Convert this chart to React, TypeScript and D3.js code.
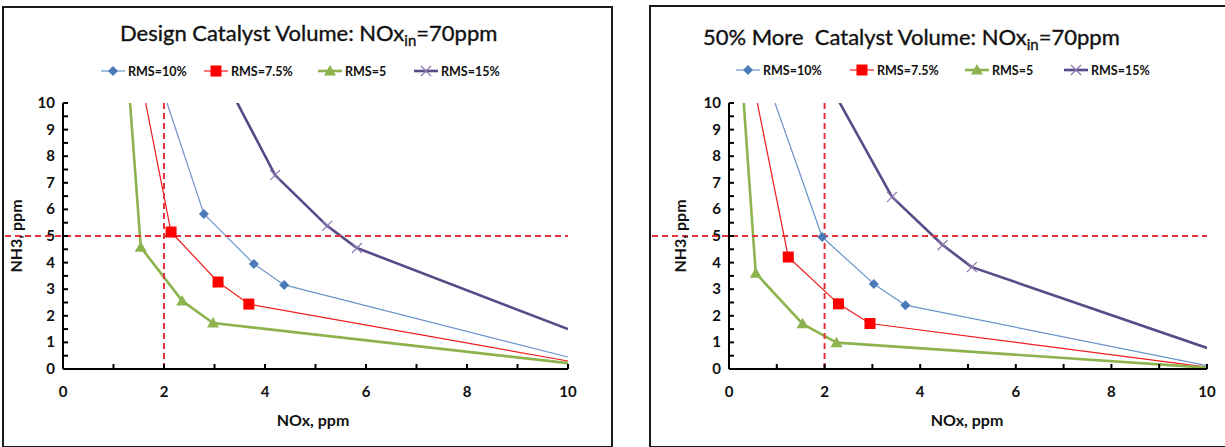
import React from 'react';
import * as d3 from 'd3';

// ---------- data ----------
const seriesNames = ['RMS=10%', 'RMS=7.5%', 'RMS=5', 'RMS=15%'];
const xTickValues = [0, 2, 4, 6, 8, 10];
const yTickValues = [0, 1, 2, 3, 4, 5, 6, 7, 8, 9, 10];

// Design catalyst volume
const designRms10X = [1.71, 2.79, 3.78, 4.38, 10];
const designRms10Y = [12, 5.83, 3.95, 3.16, 0.45];
const designRms75X = [1.43, 2.14, 3.07, 3.68, 10];
const designRms75Y = [12, 5.15, 3.27, 2.44, 0.3];
const designRms5X = [1.25, 1.54, 2.36, 2.97, 10];
const designRms5Y = [12, 4.58, 2.56, 1.73, 0.22];
const designRms15X = [2.9, 4.2, 5.23, 5.82, 10];
const designRms15Y = [12, 7.29, 5.38, 4.55, 1.5];

// 50% more catalyst volume
const moreRms10X = [0.57, 1.95, 3.03, 3.69, 10];
const moreRms10Y = [12, 4.96, 3.2, 2.4, 0.13];
const moreRms75X = [0.37, 1.24, 2.29, 2.95, 10];
const moreRms75Y = [12, 4.21, 2.45, 1.71, 0.07];
const moreRms5X = [0.23, 0.56, 1.54, 2.25, 10];
const moreRms5Y = [12, 3.6, 1.7, 0.99, 0.05];
const moreRms15X = [1.7, 3.41, 4.47, 5.08, 10];
const moreRms15Y = [12, 6.47, 4.66, 3.83, 0.79];

const limitNOx = 2;
const limitNH3 = 5;

// ---------- styles ----------
const styles = [
  { line: '#6A93C9', marker: '#4A7AB8', width: 1.2, shape: 'diamond' },
  { line: '#F21C1C', marker: '#FF0000', width: 1.2, shape: 'square' },
  { line: '#8DB34E', marker: '#8DB34E', width: 2.6, shape: 'triangle' },
  { line: '#5A4A88', marker: '#8A78B0', width: 2.6, shape: 'cross' },
];

const FONT = 'Lato, "Open Sans", "DejaVu Sans", sans-serif';

function Marker({ shape, x, y, color }: { shape: string; x: number; y: number; color: string }) {
  if (shape === 'diamond') {
    return <path d={`M${x},${y - 5}L${x + 5},${y}L${x},${y + 5}L${x - 5},${y}Z`} fill={color} />;
  }
  if (shape === 'square') {
    return <rect x={x - 5.5} y={y - 5.5} width={11} height={11} fill={color} />;
  }
  if (shape === 'triangle') {
    return <path d={`M${x},${y - 6}L${x + 6},${y + 4.5}L${x - 6},${y + 4.5}Z`} fill={color} />;
  }
  return (
    <g stroke={color} strokeWidth={1.2}>
      <line x1={x - 5} y1={y - 5} x2={x + 5} y2={y + 5} />
      <line x1={x - 5} y1={y + 5} x2={x + 5} y2={y - 5} />
    </g>
  );
}

type PanelProps = {
  id: string;
  box: [number, number, number, number];
  plot: { left: number; right: number; top: number; bottom: number };
  title: string;
  titleX: number;
  titleY: number;
  legendX: number[];
  legendY: number;
  series: { xs: number[]; ys: number[] }[];
  yTitleX: number;
  xTitleX: number;
};

function Panel(p: PanelProps) {
  const x = d3.scaleLinear().domain([0, 10]).range([p.plot.left, p.plot.right]);
  const y = d3.scaleLinear().domain([0, 10]).range([p.plot.bottom, p.plot.top]);
  const line = d3
    .line<[number, number]>()
    .x((d) => x(d[0]))
    .y((d) => y(d[1]));
  const yMinor = d3.range(0, 10.01, 0.5);
  const xMinor = d3.range(0, 10.01, 1);
  const [bx, by, bw, bh] = p.box;
  return (
    <g>
      <defs>
        <clipPath id={p.id}>
          <rect x={p.plot.left} y={p.plot.top} width={p.plot.right - p.plot.left} height={p.plot.bottom - p.plot.top} />
        </clipPath>
      </defs>
      <rect x={bx} y={by} width={bw} height={bh} fill="#fff" stroke="#1a1a1a" strokeWidth={2} />
      {/* title */}
      <text
        x={p.titleX}
        y={p.titleY}
        fontFamily={FONT}
        fontSize={22}
        fill="#111"
        stroke="#111"
        strokeWidth={0.35}
        style={{ whiteSpace: 'pre' }}
      >
        {p.title}
        <tspan fontSize={15} dy={5}>in</tspan>
        <tspan dy={-5}>=70ppm</tspan>
      </text>
      {/* legend */}
      {seriesNames.map((name, i) => (
        <g key={name}>
          <line x1={p.legendX[i]} x2={p.legendX[i] + 24} y1={p.legendY} y2={p.legendY} stroke={styles[i].line} strokeWidth={styles[i].width} />
          <Marker shape={styles[i].shape} x={p.legendX[i] + 12} y={p.legendY} color={styles[i].marker} />
          <text x={p.legendX[i] + 27} y={p.legendY + 4.5} fontFamily={FONT} fontWeight="bold" fontSize={12.5} fill="#111">
            {name}
          </text>
        </g>
      ))}
      {/* series lines */}
      <g clipPath={`url(#${p.id})`}>
        {p.series.map((s, i) => (
          <path
            key={i}
            d={line(s.xs.map((v, k) => [v, s.ys[k]] as [number, number])) || ''}
            fill="none"
            stroke={styles[i].line}
            strokeWidth={styles[i].width}
            strokeLinejoin="round"
          />
        ))}
      </g>
      {/* limit lines */}
      <line x1={x(limitNOx)} x2={x(limitNOx)} y1={y(10)} y2={y(0)} stroke="#E2343C" strokeWidth={2} strokeDasharray="6 4" />
      <line x1={bx + 2} x2={x(10)} y1={y(limitNH3)} y2={y(limitNH3)} stroke="#E2343C" strokeWidth={2} strokeDasharray="6 4" />
      {/* markers */}
      <g clipPath={`url(#${p.id})`}>
        {p.series.map((s, i) =>
          s.xs.map((v, k) =>
            k === 0 || k === s.xs.length - 1 ? null : (
              <Marker key={`${i}-${k}`} shape={styles[i].shape} x={x(v)} y={y(s.ys[k])} color={styles[i].marker} />
            )
          )
        )}
      </g>
      {/* axes */}
      <line x1={x(0)} x2={x(0)} y1={y(10)} y2={y(0)} stroke="#000" strokeWidth={2} />
      <line x1={x(0)} x2={x(10)} y1={y(0)} y2={y(0)} stroke="#000" strokeWidth={2} />
      {yMinor.map((v) => (
        <line key={`yt${v}`} x1={x(0)} x2={x(0) + 5} y1={y(v)} y2={y(v)} stroke="#000" strokeWidth={2} />
      ))}
      {xMinor.map((v) => (
        <line key={`xt${v}`} x1={x(v)} x2={x(v)} y1={y(0)} y2={y(0) - 5} stroke="#000" strokeWidth={2} />
      ))}
      {yTickValues.map((v) => (
        <text key={`yl${v}`} x={x(0) - 8} y={y(v) + 5} textAnchor="end" fontFamily={FONT} fontWeight="bold" fontSize={15} fill="#111">
          {v}
        </text>
      ))}
      {xTickValues.map((v) => (
        <text key={`xl${v}`} x={x(v)} y={y(0) + 28} textAnchor="middle" fontFamily={FONT} fontWeight="bold" fontSize={15} fill="#111">
          {v}
        </text>
      ))}
      {/* axis titles */}
      <text
        transform={`translate(${p.yTitleX},${(y(0) + y(10)) / 2}) rotate(-90)`}
        textAnchor="middle"
        fontFamily={FONT}
        fontWeight="bold"
        fontSize={16}
        fill="#111"
      >
        NH3, ppm
      </text>
      <text x={p.xTitleX} y={y(0) + 57} textAnchor="middle" fontFamily={FONT} fontWeight="bold" fontSize={16} fill="#111">
        NOx, ppm
      </text>
    </g>
  );
}

export default function App() {
  const designSeries = [
    { xs: designRms10X, ys: designRms10Y },
    { xs: designRms75X, ys: designRms75Y },
    { xs: designRms5X, ys: designRms5Y },
    { xs: designRms15X, ys: designRms15Y },
  ];
  const moreSeries = [
    { xs: moreRms10X, ys: moreRms10Y },
    { xs: moreRms75X, ys: moreRms75Y },
    { xs: moreRms5X, ys: moreRms5Y },
    { xs: moreRms15X, ys: moreRms15Y },
  ];
  return (
    <svg width={1225} height={447} style={{ position: 'absolute', left: 0, top: 0, background: '#fff' }}>
      <rect width={1225} height={447} fill="#fff" />
      <Panel
        id="clipA"
        box={[3, 7, 609, 440]}
        plot={{ left: 63, right: 568, top: 103, bottom: 369 }}
        title="Design Catalyst Volume: NOx"
        titleX={120}
        titleY={41}
        legendX={[101, 204, 318, 414]}
        legendY={71}
        series={designSeries}
        yTitleX={22}
        xTitleX={313}
      />
      <Panel
        id="clipB"
        box={[650, 6, 590, 441]}
        plot={{ left: 729, right: 1207, top: 103, bottom: 369 }}
        title="50% More  Catalyst Volume: NOx"
        titleX={703}
        titleY={45}
        legendX={[736, 850, 965, 1064]}
        legendY={70}
        series={moreSeries}
        yTitleX={686}
        xTitleX={967}
      />
    </svg>
  );
}
